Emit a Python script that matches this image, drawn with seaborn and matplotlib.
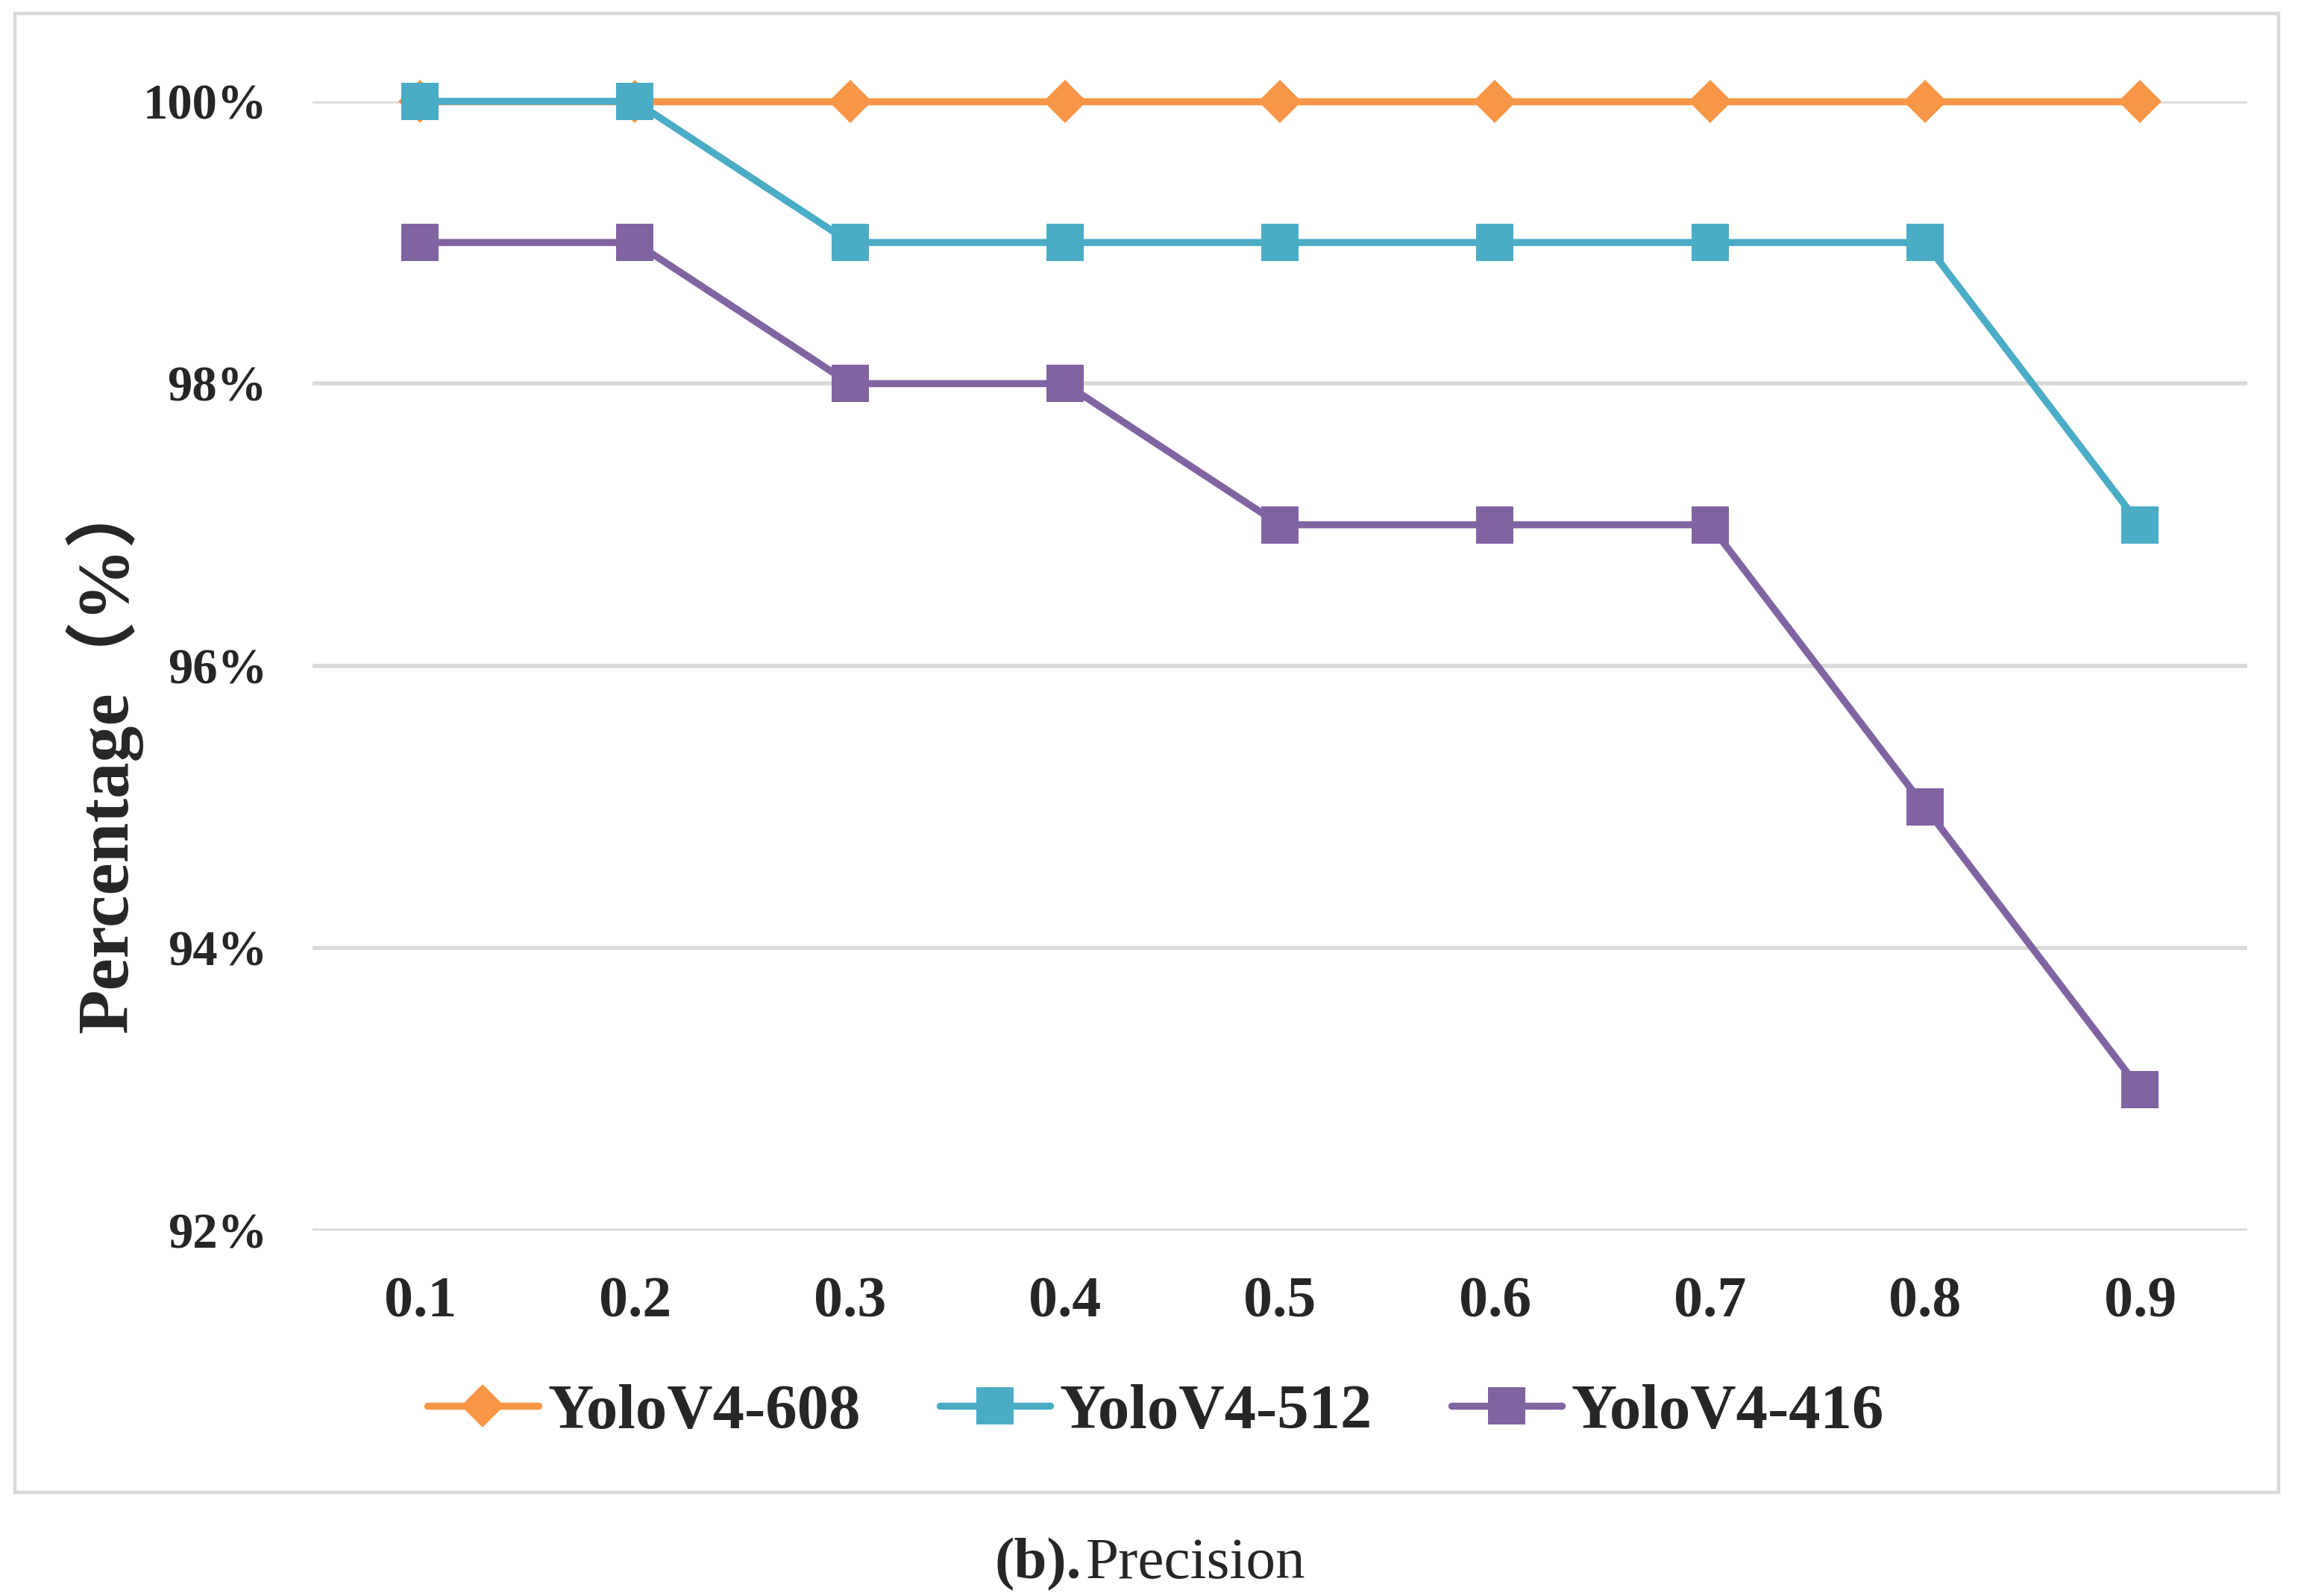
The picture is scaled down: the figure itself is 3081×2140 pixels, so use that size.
import matplotlib
matplotlib.use("Agg")
import matplotlib.pyplot as plt
import seaborn as sns
import pandas as pd
from matplotlib.patches import Rectangle
from matplotlib.lines import Line2D
from matplotlib.ticker import FuncFormatter

thresholds = ["0.1", "0.2", "0.3", "0.4", "0.5", "0.6", "0.7", "0.8", "0.9"]
yolo608 = [100, 100, 100, 100, 100, 100, 100, 100, 100]
yolo512 = [100, 100, 99, 99, 99, 99, 99, 99, 97]
yolo416 = [99, 99, 98, 98, 97, 97, 97, 95, 93]
series_names = ["YoloV4-608", "YoloV4-512", "YoloV4-416"]
y_ticks = [92, 94, 96, 98, 100]

colors = {"YoloV4-608": "#F79646", "YoloV4-512": "#4BACC6", "YoloV4-416": "#8064A2"}
markers = {"YoloV4-608": "D", "YoloV4-512": "s", "YoloV4-416": "s"}
msizes = {"YoloV4-608": 15, "YoloV4-512": 18, "YoloV4-416": 18}

df = pd.concat([
    pd.DataFrame({"threshold": thresholds, "value": vals, "model": name})
    for name, vals in zip(series_names, [yolo608, yolo512, yolo416])
], ignore_index=True)

sns.set_theme(style="white")
serif = ["Liberation Serif", "DejaVu Serif"]
plt.rcParams["font.family"] = serif

DPI = 200
fig = plt.figure(figsize=(3081 / DPI, 2140 / DPI), dpi=DPI)
fig.patch.set_facecolor("white")
ax = fig.add_axes([0.136, 0.229, 0.842, 0.7075])

LW = 3.4
handles = []
for name in series_names:
    sub = df[df["model"] == name]
    sns.lineplot(data=sub, x="threshold", y="value", ax=ax, color=colors[name],
                 marker=markers[name], markersize=msizes[name], linewidth=LW,
                 markeredgewidth=0, sort=False, legend=False, clip_on=False, zorder=3)
    handles.append(Line2D([], [], color=colors[name], marker=markers[name],
                          markersize=msizes[name], linewidth=LW, markeredgewidth=0))

ax.set_xlim(-0.5, len(thresholds) - 0.5)
ax.set_ylim(92, 100)
ax.set_yticks(y_ticks)
ax.yaxis.set_major_formatter(FuncFormatter(lambda v, p: f"{int(round(v))}%"))
ax.grid(axis="y", color="#D9D9D9", linewidth=2.0)
ax.grid(axis="x", visible=False)
ax.set_axisbelow(True)
for s in ax.spines.values():
    s.set_visible(False)
ax.tick_params(axis="both", length=0)
ax.tick_params(axis="y", pad=22, labelsize=24)
ax.tick_params(axis="x", pad=22, labelsize=28)
for lab in ax.get_xticklabels() + ax.get_yticklabels():
    lab.set_fontweight("bold")
    lab.set_family(serif)
ax.set_xlabel("")
ax.set_ylabel("")

fig.text(0.045, 0.528, "Percentage（%）", rotation=90, ha="center", va="center",
         fontsize=35, fontweight="bold", family=["Liberation Serif", "Noto Sans CJK SC"])

fig.legend(handles=handles, labels=series_names, loc="center", bbox_to_anchor=(0.503, 0.115),
           ncol=3, frameon=False, handlelength=1.75, handletextpad=0.15, columnspacing=1.25,
           prop={"family": serif, "weight": "bold", "size": 30.5})

fig.text(0.4705, 0.02, "(b).", ha="right", va="center", fontsize=28.5, fontweight="bold")
fig.text(0.4725, 0.02, "Precision", ha="left", va="center", fontsize=28.5)

fig.patches.append(Rectangle((0.0065, 0.065), 0.985, 0.9265, transform=fig.transFigure,
                             fill=False, edgecolor="#D9D9D9", linewidth=1.6))

fig.savefig("out.png", dpi=DPI, facecolor="white")
